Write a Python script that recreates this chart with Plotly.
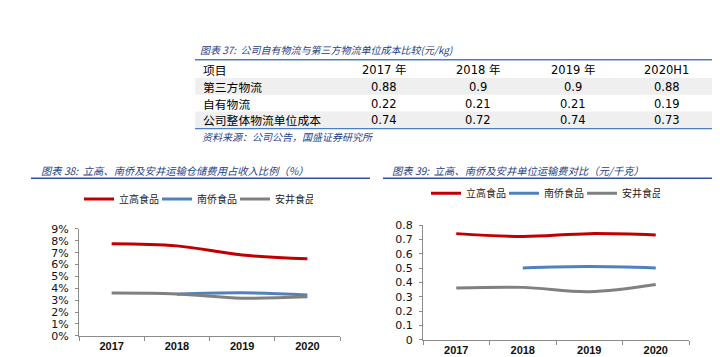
import plotly.graph_objects as go

W, H = 720, 357

# ---------------- data ----------------
table_header = ["项目", "2017 年", "2018 年", "2019 年", "2020H1"]
table_items = ["第三方物流", "自有物流", "公司整体物流单位成本"]
cost_2017 = [0.88, 0.22, 0.74]
cost_2018 = [0.9, 0.21, 0.72]
cost_2019 = [0.9, 0.21, 0.74]
cost_2020h1 = [0.88, 0.19, 0.73]

years = ["2017", "2018", "2019", "2020"]
series_names = ["立高食品", "南侨食品", "安井食品"]
ratio_lg = [0.0775, 0.0757, 0.0680, 0.0648]
ratio_nq = [None, 0.0350, 0.0362, 0.0343]
ratio_aj = [0.0360, 0.0353, 0.0317, 0.0328]

unit_lg = [0.74, 0.72, 0.74, 0.73]
unit_nq = [None, 0.50, 0.51, 0.50]
unit_aj = [0.36, 0.365, 0.335, 0.385]

y1_ticks = [0, 0.01, 0.02, 0.03, 0.04, 0.05, 0.06, 0.07, 0.08, 0.09]
y2_ticks = [0, 0.1, 0.2, 0.3, 0.4, 0.5, 0.6, 0.7, 0.8]

colors = ["#C00000", "#4F81BD", "#808080"]
CJK = "Noto Sans CJK SC"
NUM = "DejaVu Sans, Noto Sans CJK SC"
TITLE_BLUE = "#1F3F86"

def px_x(p):
    return p / W

def px_y(p):
    return 1 - p / H

fig = go.Figure()

# ---------------- table layout ----------------
TBL_L, TBL_R = 187, 706
TBL_TOP = 48
HEAD_H = 18.5
ROW_H = 17.3
FIRST_W = 142
NUM_W = (TBL_R - TBL_L - FIRST_W) / 4
fmt = lambda v: f"{v:g}"
columns = [cost_2017, cost_2018, cost_2019, cost_2020h1]
CELL_BOX_H = 15

def col_center(j):
    return TBL_L + FIRST_W + NUM_W * (j + 0.5)

def cell_text(text, x, y, anchor, font):
    fig.add_annotation(text=text, x=px_x(x), y=px_y(y), xref="paper", yref="paper",
                       xanchor=anchor, yanchor="middle", showarrow=False,
                       height=CELL_BOX_H, font=font)

# header row
hy = TBL_TOP + HEAD_H / 2
cell_text(table_header[0], TBL_L + 6, hy, "left", dict(family=CJK, size=11.8, color="black"))
for j, hdr in enumerate(table_header[1:]):
    cell_text(hdr, col_center(j), hy, "center", dict(family=NUM, size=11.5, color="black"))

# body rows
for i, item in enumerate(table_items):
    top = TBL_TOP + HEAD_H + ROW_H * i
    if i % 2 == 0:
        fig.add_shape(type="rect", xref="paper", yref="paper",
                      x0=px_x(TBL_L), x1=px_x(TBL_R), y0=px_y(top + ROW_H), y1=px_y(top),
                      fillcolor="#EFEFEF", line=dict(width=0), layer="below")
    cy = top + ROW_H / 2
    cell_text(item, TBL_L + 6, cy, "left", dict(family=CJK, size=11.8, color="black"))
    for j, col in enumerate(columns):
        cell_text(fmt(col[i]), col_center(j), cy, "center",
                  dict(family=NUM, size=11.5, color="black"))

TBL_BOT = TBL_TOP + HEAD_H + ROW_H * len(table_items)

# ---------------- chart 38 ----------------
for name, vals, c in zip(series_names, [ratio_lg, ratio_nq, ratio_aj], colors):
    fig.add_trace(go.Scatter(
        x=years, y=vals, name=name, mode="lines",
        line=dict(color=c, width=3, shape="spline"),
        xaxis="x", yaxis="y", legend="legend",
        connectgaps=False,
    ))

# ---------------- chart 39 ----------------
for name, vals, c in zip(series_names, [unit_lg, unit_nq, unit_aj], colors):
    fig.add_trace(go.Scatter(
        x=years, y=vals, name=name, mode="lines",
        line=dict(color=c, width=3, shape="spline"),
        xaxis="x2", yaxis="y2", legend="legend2",
        connectgaps=False,
    ))

axis_line = "#8C8C8C"
xcommon = dict(
    type="category", categoryorder="array", categoryarray=years,
    range=[-0.5, 3.5], tickson="boundaries", ticks="outside", ticklen=4,
    tickcolor=axis_line, showline=True, linecolor=axis_line, linewidth=1,
    showgrid=False, zeroline=False,
    tickfont=dict(family="Liberation Sans", size=11, color="#111", weight="bold"),
    fixedrange=True,
)
ycommon = dict(
    ticks="outside", ticklen=3, tickcolor=axis_line, showline=True,
    linecolor=axis_line, linewidth=1, showgrid=False, zeroline=False,
    tickfont=dict(family="DejaVu Sans", size=11, color="#111"),
    ticklabelstandoff=4,
    fixedrange=True,
)

fig.update_layout(
    width=W, height=H,
    margin=dict(l=0, r=0, t=0, b=0),
    paper_bgcolor="white", plot_bgcolor="white",
    xaxis=dict(domain=[px_x(71), px_x(332)], anchor="y", **xcommon),
    yaxis=dict(domain=[px_y(334), px_y(223)], anchor="x", range=[0, 0.09],
               tickvals=y1_ticks, tickformat=".0%", **ycommon),
    xaxis2=dict(domain=[px_x(415), px_x(681)], anchor="y2", **xcommon),
    yaxis2=dict(domain=[px_y(338), px_y(219)], anchor="x2", range=[0, 0.8],
                tickvals=y2_ticks, **ycommon),
    legend=dict(orientation="h", x=px_x(71), xanchor="left", y=px_y(192),
                yanchor="middle", font=dict(family=CJK, size=10, color="#222"),
                itemwidth=30, entrywidth=33, bgcolor="rgba(0,0,0,0)"),
    legend2=dict(orientation="h", x=px_x(418), xanchor="left", y=px_y(186),
                 yanchor="middle", font=dict(family=CJK, size=10, color="#222"),
                 itemwidth=30, entrywidth=33, bgcolor="rgba(0,0,0,0)"),
    showlegend=True,
)

# titles / notes
fig.add_annotation(text="图表 37:  公司自有物流与第三方物流单位成本比较(元/kg)",
                   x=px_x(190), y=px_y(37), xref="paper", yref="paper",
                   xanchor="left", yanchor="middle", showarrow=False,
                   font=dict(family=CJK, size=10, color=TITLE_BLUE, style="italic"))
fig.add_annotation(text="资料来源：公司公告，国盛证券研究所",
                   x=px_x(192), y=px_y(TBL_BOT + 9), xref="paper", yref="paper",
                   xanchor="left", yanchor="middle", showarrow=False,
                   font=dict(family=CJK, size=10, color=TITLE_BLUE, style="italic"))
fig.add_annotation(text="图表 38:  立高、南侨及安井运输仓储费用占收入比例（%）",
                   x=px_x(31), y=px_y(162), xref="paper", yref="paper",
                   xanchor="left", yanchor="middle", showarrow=False,
                   font=dict(family=CJK, size=10.3, color=TITLE_BLUE, style="italic"))
fig.add_annotation(text="图表 39:  立高、南侨及安井单位运输费对比（元/千克）",
                   x=px_x(382), y=px_y(162), xref="paper", yref="paper",
                   xanchor="left", yanchor="middle", showarrow=False,
                   font=dict(family=CJK, size=10.3, color=TITLE_BLUE, style="italic"))

# rules
fig.add_shape(type="line", xref="paper", yref="paper", x0=px_x(TBL_L), x1=px_x(TBL_R),
              y0=px_y(TBL_TOP - 0.5), y1=px_y(TBL_TOP - 0.5), line=dict(color="#4F7EC0", width=1.3))
fig.add_shape(type="line", xref="paper", yref="paper", x0=px_x(TBL_L), x1=px_x(TBL_R),
              y0=px_y(TBL_BOT + 0.5), y1=px_y(TBL_BOT + 0.5), line=dict(color="#4F7EC0", width=1.3))
fig.add_shape(type="line", xref="paper", yref="paper", x0=px_x(23), x1=px_x(362),
              y0=px_y(170.5), y1=px_y(170.5), line=dict(color="#2E5597", width=1.5))
fig.add_shape(type="line", xref="paper", yref="paper", x0=px_x(375), x1=px_x(707),
              y0=px_y(170.5), y1=px_y(170.5), line=dict(color="#2E5597", width=1.5))

fig.write_html("out.html")
